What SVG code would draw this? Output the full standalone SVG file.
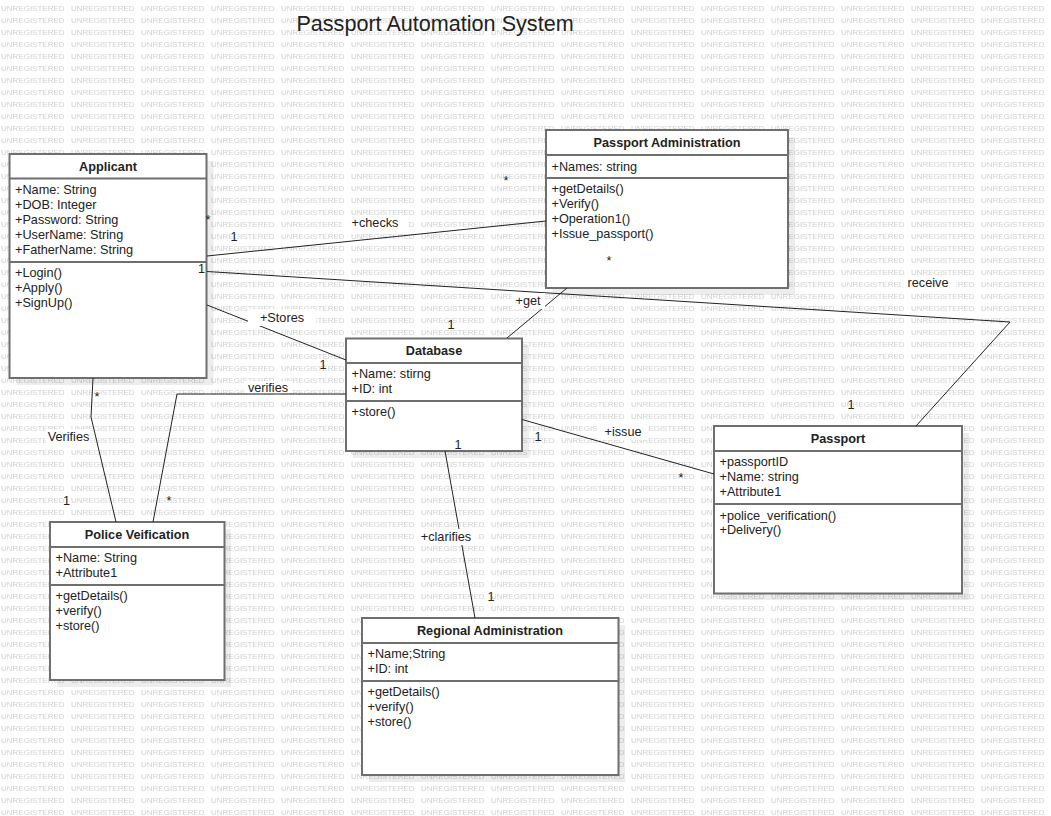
<svg xmlns="http://www.w3.org/2000/svg" width="1051" height="816" viewBox="0 0 1051 816">
<style>
.t{font-family:"Liberation Sans",Arial,sans-serif;font-size:12.7px;fill:#222}
.h{font-weight:bold;text-anchor:middle}
.m{text-anchor:middle}
.box{fill:#fff;stroke:#6f6f6f;stroke-width:2}
.sh{fill:#000;opacity:0.07}
.dv{stroke:#6f6f6f;stroke-width:2}
.c{stroke:#222;stroke-width:1;fill:none}
.lb{fill:#fff}
.title{font-family:"Liberation Sans",Arial,sans-serif;font-size:21.6px;fill:#222}
</style>
<defs>
<pattern id="wm" x="0" y="0" width="70" height="12" patternUnits="userSpaceOnUse">
<text x="1" y="11.3" font-family="Liberation Sans, Arial, sans-serif" font-size="8" fill="#d0d0d0">UNREGISTERED</text>
</pattern>
</defs>
<rect x="0" y="0" width="1051" height="816" fill="#fff"/>
<rect x="0" y="0" width="1051" height="816" fill="url(#wm)"/>
<text class="title" x="435" y="31" text-anchor="middle">Passport Automation System</text>

<g id="applicant">
<rect class="sh" x="16.5" y="161" width="197" height="224"/>
<rect class="box" x="9.5" y="154" width="197" height="224"/>
<line class="dv" x1="9.5" y1="178.5" x2="206.5" y2="178.5"/>
<line class="dv" x1="9.5" y1="262" x2="206.5" y2="262"/>
<text class="t h" x="108" y="171">Applicant</text>
<text class="t" x="15" y="193.5">+Name: String</text>
<text class="t" x="15" y="208.5">+DOB: Integer</text>
<text class="t" x="15" y="223.5">+Password: String</text>
<text class="t" x="15" y="238.5">+UserName: String</text>
<text class="t" x="15" y="253.5">+FatherName: String</text>
<text class="t" x="15" y="277">+Login()</text>
<text class="t" x="15" y="292">+Apply()</text>
<text class="t" x="15" y="307">+SignUp()</text>
</g>

<g id="passport-administration">
<rect class="sh" x="553" y="137" width="242" height="158"/>
<rect class="box" x="546" y="130" width="242" height="158"/>
<line class="dv" x1="546" y1="155" x2="788" y2="155"/>
<line class="dv" x1="546" y1="178" x2="788" y2="178"/>
<text class="t h" x="667" y="146.5">Passport Administration</text>
<text class="t" x="551.5" y="170.5">+Names: string</text>
<text class="t" x="551.5" y="192.5">+getDetails()</text>
<text class="t" x="551.5" y="207.5">+Verify()</text>
<text class="t" x="551.5" y="222.5">+Operation1()</text>
<text class="t" x="551.5" y="237.5">+Issue_passport()</text>
<text class="t m" x="609" y="265">*</text>
</g>

<g id="database">
<rect class="sh" x="353" y="345" width="176" height="113"/>
<rect class="box" x="346" y="338.5" width="176" height="112.5"/>
<line class="dv" x1="346" y1="363" x2="522" y2="363"/>
<line class="dv" x1="346" y1="401" x2="522" y2="401"/>
<text class="t h" x="434" y="355">Database</text>
<text class="t" x="351.5" y="378">+Name: stirng</text>
<text class="t" x="351.5" y="393">+ID: int</text>
<text class="t" x="351.5" y="415.5">+store()</text>
</g>

<g id="passport">
<rect class="sh" x="721" y="433" width="248" height="167"/>
<rect class="box" x="714" y="426" width="248" height="167.5"/>
<line class="dv" x1="714" y1="451" x2="962" y2="451"/>
<line class="dv" x1="714" y1="504" x2="962" y2="504"/>
<text class="t h" x="838" y="443">Passport</text>
<text class="t" x="719.5" y="466">+passportID</text>
<text class="t" x="719.5" y="481">+Name: string</text>
<text class="t" x="719.5" y="496">+Attribute1</text>
<text class="t" x="719.5" y="519.5">+police_verification()</text>
<text class="t" x="719.5" y="534">+Delivery()</text>
</g>

<g id="police-verification">
<rect class="sh" x="57" y="529" width="174" height="158"/>
<rect class="box" x="50" y="522" width="174.5" height="158"/>
<line class="dv" x1="50" y1="547" x2="224.5" y2="547"/>
<line class="dv" x1="50" y1="585" x2="224.5" y2="585"/>
<text class="t h" x="137" y="539">Police Veification</text>
<text class="t" x="55.5" y="562">+Name: String</text>
<text class="t" x="55.5" y="577">+Attribute1</text>
<text class="t" x="55.5" y="600">+getDetails()</text>
<text class="t" x="55.5" y="615">+verify()</text>
<text class="t" x="55.5" y="630">+store()</text>
</g>

<g id="regional-administration">
<rect class="sh" x="369" y="625" width="256" height="157"/>
<rect class="box" x="362" y="618" width="256.5" height="157"/>
<line class="dv" x1="362" y1="643" x2="618.5" y2="643"/>
<line class="dv" x1="362" y1="681" x2="618.5" y2="681"/>
<text class="t h" x="490" y="635">Regional Administration</text>
<text class="t" x="367.5" y="658">+Name;String</text>
<text class="t" x="367.5" y="673">+ID: int</text>
<text class="t" x="367.5" y="696">+getDetails()</text>
<text class="t" x="367.5" y="711">+verify()</text>
<text class="t" x="367.5" y="726">+store()</text>
</g>

<g id="connectors">
<path class="c" d="M207,256 L546,221"/>
<path class="c" d="M207,271.5 L1010,322 L916,426"/>
<path class="c" d="M207,305 L346,360"/>
<path class="c" d="M507,338 L567,288"/>
<path class="c" d="M346,394 L177,394 L153,522"/>
<path class="c" d="M93,378 L91,417 L116,522"/>
<path class="c" d="M522,419.5 L714,474"/>
<path class="c" d="M445,451 L475,618"/>

<rect class="lb" x="342" y="215" width="66" height="16"/>
<text class="t m" x="375" y="227">+checks</text>
<rect class="lb" x="901" y="275" width="55" height="16"/>
<text class="t m" x="928" y="287">receive</text>
<rect class="lb" x="248" y="309" width="68" height="17"/>
<text class="t m" x="282" y="322">+Stores</text>
<rect class="lb" x="512" y="293" width="33" height="16"/>
<text class="t m" x="528" y="305">+get</text>
<rect class="lb" x="244" y="381" width="48" height="12"/>
<text class="t m" x="268" y="392">verifies</text>
<rect class="lb" x="46" y="429" width="44" height="16"/>
<text class="t m" x="68.5" y="441">Verifies</text>
<rect class="lb" x="598" y="424" width="50" height="16"/>
<text class="t m" x="623" y="436">+issue</text>
<rect class="lb" x="414" y="529" width="64" height="16"/>
<text class="t m" x="446" y="541">+clarifies</text>

<text class="t m" x="234" y="241">1</text>
<text class="t m" x="208" y="224">*</text>
<text class="t m" x="506" y="185">*</text>
<text class="t m" x="201.5" y="273">1</text>
<text class="t m" x="851" y="409">1</text>
<text class="t m" x="323" y="369">1</text>
<text class="t m" x="451" y="329">1</text>
<text class="t m" x="66.5" y="505">1</text>
<text class="t m" x="97" y="401">*</text>
<text class="t m" x="169" y="505">*</text>
<text class="t m" x="538" y="440.5">1</text>
<text class="t m" x="681" y="482">*</text>
<text class="t m" x="491" y="600.5">1</text>
<text class="t m" x="458" y="449">1</text>
</g>
</svg>
